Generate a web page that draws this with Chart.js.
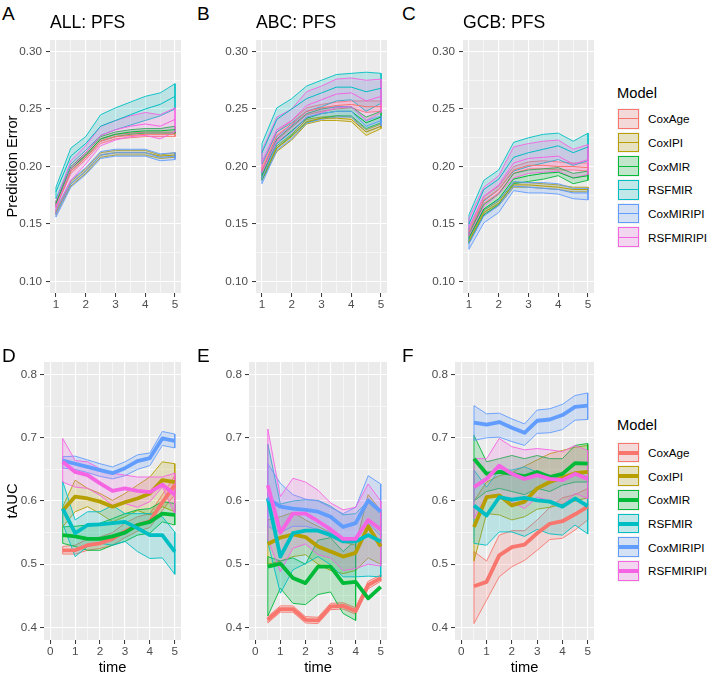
<!DOCTYPE html>
<html>
<head>
<meta charset="utf-8">
<script src="https://cdn.jsdelivr.net/npm/chart.js@4/dist/chart.umd.min.js"></script>
<style>
html, body { margin: 0; padding: 0; background: #fff; overflow: hidden; }
body { width: 709px; height: 675px; position: relative; font-family: "Liberation Sans", Arial, sans-serif; }
canvas { position: absolute; }
.txt { position: absolute; line-height: 1; white-space: nowrap; color: #000; }
.tag { font-size: 19px; }
.ttl { font-size: 17.6px; }
.legend { position: absolute; left: 617px; }
.legend .head { font-size: 14.7px; line-height: 1; position: absolute; left: 0; white-space: nowrap; }
.row { display: flex; align-items: center; height: 23.7px; }
.key { width: 23px; height: 21.7px; background: #f2f2f2; position: relative; }
.key .fill { position: absolute; left: 1px; top: 1px; right: 1px; bottom: 1px; border: 1px solid; }
.key .ln { position: absolute; left: 1px; right: 1px; }
.row span { font-size: 11.7px; margin-left: 8px; white-space: nowrap; }
</style>
</head>
<body>
<script>
// models and colours (ggplot default hues)
const models = ['CoxAge', 'CoxIPI', 'CoxMIR', 'RSFMIR', 'CoxMIRIPI', 'RSFMIRIPI'];
const colors = ['#F8766D', '#B79F00', '#00BA38', '#00BFC4', '#619CFF', '#F564E3'];

// x values
const timesPE = [1, 1.5, 2, 2.5, 3, 3.5, 4, 4.5, 5];
const timesAUC = [0.5, 1, 1.5, 2, 2.5, 3, 3.5, 4, 4.5, 5];

// ticks
const peYMajor = [0.10, 0.15, 0.20, 0.25, 0.30];
const peYMinor = [0.125, 0.175, 0.225, 0.275];
const peXMajor = [1, 2, 3, 4, 5];
const peXMinor = [1.5, 2.5, 3.5, 4.5];
const aucYMajor = [0.4, 0.5, 0.6, 0.7, 0.8];
const aucYMinor = [0.45, 0.55, 0.65, 0.75];
const aucXMajor = [0, 1, 2, 3, 4, 5];
const aucXMinor = [0.5, 1.5, 2.5, 3.5, 4.5];

// A: ALL PFS prediction error (rows follow models order)
const allMean = [
  [0.166, 0.196, 0.208, 0.222, 0.226, 0.227, 0.228, 0.228, 0.228],
  [0.160, 0.185, 0.196, 0.210, 0.212, 0.212, 0.212, 0.209, 0.210],
  [0.168, 0.198, 0.210, 0.224, 0.228, 0.230, 0.231, 0.231, 0.232],
  [0.178, 0.209, 0.220, 0.235, 0.240, 0.245, 0.250, 0.254, 0.261],
  [0.159, 0.185, 0.196, 0.210, 0.212, 0.212, 0.212, 0.208, 0.209],
  [0.165, 0.198, 0.212, 0.227, 0.232, 0.235, 0.237, 0.235, 0.241]
];
const allLo = [
  [0.164, 0.194, 0.206, 0.220, 0.224, 0.225, 0.226, 0.226, 0.226],
  [0.158, 0.183, 0.194, 0.208, 0.210, 0.210, 0.210, 0.207, 0.208],
  [0.166, 0.196, 0.208, 0.222, 0.226, 0.228, 0.229, 0.229, 0.229],
  [0.172, 0.202, 0.214, 0.227, 0.232, 0.236, 0.240, 0.244, 0.250],
  [0.156, 0.182, 0.193, 0.207, 0.209, 0.209, 0.209, 0.205, 0.206],
  [0.159, 0.188, 0.202, 0.218, 0.223, 0.226, 0.227, 0.224, 0.230]
];
const allHi = [
  [0.168, 0.198, 0.210, 0.224, 0.228, 0.229, 0.230, 0.230, 0.230],
  [0.162, 0.187, 0.198, 0.212, 0.214, 0.214, 0.214, 0.210, 0.212],
  [0.170, 0.200, 0.212, 0.226, 0.230, 0.232, 0.233, 0.233, 0.235],
  [0.182, 0.216, 0.226, 0.245, 0.251, 0.256, 0.261, 0.264, 0.272],
  [0.163, 0.188, 0.199, 0.213, 0.215, 0.215, 0.215, 0.211, 0.212],
  [0.170, 0.205, 0.218, 0.235, 0.240, 0.244, 0.247, 0.245, 0.251]
];

// B: ABC PFS prediction error
const abcMean = [
  [0.197, 0.227, 0.237, 0.248, 0.251, 0.253, 0.254, 0.252, 0.252],
  [0.190, 0.216, 0.226, 0.239, 0.242, 0.242, 0.241, 0.230, 0.235],
  [0.192, 0.220, 0.231, 0.242, 0.246, 0.248, 0.248, 0.238, 0.243],
  [0.212, 0.241, 0.250, 0.259, 0.264, 0.269, 0.269, 0.265, 0.268],
  [0.190, 0.220, 0.230, 0.243, 0.246, 0.248, 0.248, 0.235, 0.240],
  [0.204, 0.232, 0.240, 0.253, 0.258, 0.263, 0.264, 0.257, 0.261]
];
const abcLo = [
  [0.193, 0.223, 0.234, 0.245, 0.248, 0.250, 0.251, 0.247, 0.248],
  [0.188, 0.213, 0.223, 0.237, 0.240, 0.240, 0.239, 0.227, 0.233],
  [0.188, 0.216, 0.227, 0.238, 0.242, 0.244, 0.244, 0.233, 0.238],
  [0.202, 0.230, 0.238, 0.248, 0.252, 0.257, 0.258, 0.248, 0.255],
  [0.185, 0.214, 0.224, 0.238, 0.241, 0.243, 0.243, 0.230, 0.235],
  [0.195, 0.222, 0.230, 0.242, 0.247, 0.251, 0.252, 0.240, 0.247]
];
const abcHi = [
  [0.200, 0.230, 0.240, 0.251, 0.254, 0.256, 0.257, 0.257, 0.257],
  [0.192, 0.218, 0.228, 0.241, 0.243, 0.244, 0.243, 0.232, 0.237],
  [0.196, 0.224, 0.235, 0.246, 0.250, 0.252, 0.252, 0.243, 0.248],
  [0.220, 0.251, 0.259, 0.270, 0.275, 0.280, 0.281, 0.282, 0.281],
  [0.196, 0.226, 0.236, 0.248, 0.251, 0.252, 0.252, 0.240, 0.244],
  [0.214, 0.243, 0.250, 0.265, 0.270, 0.276, 0.277, 0.275, 0.276]
];

// C: GCB PFS prediction error
const gcbMean = [
  [0.143, 0.171, 0.180, 0.197, 0.201, 0.201, 0.200, 0.200, 0.199],
  [0.135, 0.160, 0.168, 0.184, 0.184, 0.183, 0.182, 0.180, 0.180],
  [0.138, 0.163, 0.172, 0.189, 0.192, 0.194, 0.195, 0.190, 0.192],
  [0.150, 0.180, 0.189, 0.208, 0.212, 0.215, 0.218, 0.212, 0.217],
  [0.133, 0.157, 0.166, 0.183, 0.182, 0.181, 0.180, 0.177, 0.177],
  [0.147, 0.174, 0.184, 0.203, 0.207, 0.208, 0.209, 0.202, 0.206]
];
const gcbLo = [
  [0.140, 0.168, 0.177, 0.194, 0.198, 0.198, 0.197, 0.197, 0.196],
  [0.133, 0.158, 0.166, 0.182, 0.182, 0.181, 0.180, 0.178, 0.178],
  [0.134, 0.158, 0.167, 0.185, 0.187, 0.189, 0.192, 0.185, 0.188],
  [0.142, 0.170, 0.180, 0.196, 0.200, 0.203, 0.206, 0.201, 0.205],
  [0.128, 0.151, 0.160, 0.179, 0.177, 0.177, 0.176, 0.172, 0.171],
  [0.139, 0.165, 0.176, 0.190, 0.194, 0.195, 0.196, 0.190, 0.193]
];
const gcbHi = [
  [0.146, 0.174, 0.183, 0.200, 0.204, 0.205, 0.204, 0.203, 0.203],
  [0.137, 0.162, 0.170, 0.186, 0.186, 0.185, 0.184, 0.182, 0.182],
  [0.142, 0.167, 0.176, 0.194, 0.197, 0.198, 0.199, 0.194, 0.196],
  [0.158, 0.188, 0.197, 0.221, 0.225, 0.228, 0.229, 0.222, 0.229],
  [0.138, 0.163, 0.171, 0.187, 0.186, 0.186, 0.185, 0.181, 0.181],
  [0.155, 0.182, 0.192, 0.217, 0.220, 0.222, 0.223, 0.215, 0.219]
];

// D: ALL tAUC
const allAucMean = [
  [0.522, 0.522, 0.530, 0.533, 0.540, 0.552, 0.562, 0.568, 0.598, 0.625],
  [0.585, 0.607, 0.604, 0.599, 0.591, 0.598, 0.604, 0.612, 0.633, 0.630],
  [0.546, 0.544, 0.540, 0.540, 0.544, 0.550, 0.562, 0.567, 0.580, 0.578],
  [0.588, 0.549, 0.562, 0.563, 0.565, 0.567, 0.557, 0.546, 0.546, 0.520],
  [0.664, 0.659, 0.654, 0.649, 0.644, 0.652, 0.663, 0.668, 0.699, 0.695],
  [0.662, 0.646, 0.641, 0.628, 0.616, 0.620, 0.616, 0.614, 0.626, 0.610]
];
const allAucLo = [
  [0.516, 0.516, 0.522, 0.525, 0.530, 0.542, 0.552, 0.558, 0.585, 0.610],
  [0.559, 0.583, 0.591, 0.580, 0.567, 0.575, 0.585, 0.578, 0.591, 0.583],
  [0.533, 0.528, 0.522, 0.522, 0.530, 0.536, 0.546, 0.549, 0.567, 0.562],
  [0.564, 0.512, 0.528, 0.533, 0.530, 0.536, 0.520, 0.509, 0.510, 0.484],
  [0.652, 0.650, 0.645, 0.639, 0.635, 0.640, 0.650, 0.656, 0.688, 0.684],
  [0.630, 0.622, 0.620, 0.609, 0.593, 0.596, 0.590, 0.599, 0.622, 0.580]
];
const allAucHi = [
  [0.528, 0.530, 0.540, 0.543, 0.550, 0.565, 0.575, 0.580, 0.610, 0.640],
  [0.591, 0.633, 0.620, 0.612, 0.601, 0.612, 0.625, 0.638, 0.662, 0.659],
  [0.559, 0.560, 0.562, 0.565, 0.572, 0.580, 0.586, 0.588, 0.599, 0.596],
  [0.631, 0.570, 0.583, 0.583, 0.593, 0.580, 0.580, 0.580, 0.575, 0.551],
  [0.670, 0.671, 0.665, 0.659, 0.654, 0.662, 0.673, 0.676, 0.710, 0.706],
  [0.699, 0.664, 0.662, 0.651, 0.644, 0.641, 0.638, 0.638, 0.638, 0.644]
];

// E: ABC tAUC (CoxMIR band stops at t = 4)
const abcAucMean = [
  [0.412, 0.429, 0.429, 0.412, 0.411, 0.433, 0.434, 0.426, 0.467, 0.478],
  [0.532, 0.542, 0.547, 0.543, 0.528, 0.520, 0.512, 0.518, 0.560, 0.528],
  [0.496, 0.501, 0.478, 0.470, 0.496, 0.496, 0.470, 0.472, 0.446, 0.464],
  [0.604, 0.512, 0.549, 0.553, 0.553, 0.546, 0.536, 0.536, 0.546, 0.536],
  [0.604, 0.591, 0.588, 0.586, 0.583, 0.575, 0.559, 0.565, 0.601, 0.583],
  [0.625, 0.550, 0.580, 0.580, 0.568, 0.555, 0.540, 0.540, 0.570, 0.555]
];
const abcAucLo = [
  [0.407, 0.424, 0.424, 0.407, 0.406, 0.428, 0.429, 0.421, 0.461, 0.473],
  [0.500, 0.505, 0.512, 0.515, 0.500, 0.490, 0.485, 0.490, 0.510, 0.500],
  [0.418, 0.462, 0.438, 0.436, 0.452, 0.456, 0.422, 0.411, null, null],
  [0.535, 0.454, 0.491, 0.501, 0.512, 0.499, 0.480, 0.480, 0.481, 0.480],
  [0.560, 0.550, 0.560, 0.560, 0.555, 0.550, 0.535, 0.540, 0.565, 0.545],
  [0.540, 0.488, 0.525, 0.532, 0.515, 0.510, 0.490, 0.493, 0.500, 0.497]
];
const abcAucHi = [
  [0.417, 0.434, 0.434, 0.417, 0.416, 0.438, 0.439, 0.431, 0.473, 0.483],
  [0.570, 0.575, 0.582, 0.570, 0.560, 0.550, 0.535, 0.530, 0.610, 0.585],
  [0.512, 0.505, 0.510, 0.500, 0.538, 0.542, 0.520, 0.538, null, null],
  [0.690, 0.595, 0.600, 0.602, 0.601, 0.592, 0.578, 0.580, 0.600, 0.585],
  [0.659, 0.628, 0.610, 0.603, 0.600, 0.590, 0.580, 0.590, 0.640, 0.627],
  [0.714, 0.607, 0.636, 0.630, 0.617, 0.597, 0.586, 0.590, 0.627, 0.600]
];

// F: GCB tAUC
const gcbAucMean = [
  [0.465, 0.472, 0.514, 0.527, 0.531, 0.549, 0.564, 0.568, 0.579, 0.591],
  [0.559, 0.606, 0.609, 0.593, 0.599, 0.620, 0.630, 0.637, 0.644, 0.646],
  [0.667, 0.643, 0.646, 0.643, 0.639, 0.646, 0.638, 0.643, 0.660, 0.659],
  [0.593, 0.577, 0.606, 0.602, 0.605, 0.601, 0.599, 0.591, 0.604, 0.592],
  [0.724, 0.721, 0.725, 0.716, 0.708, 0.727, 0.729, 0.736, 0.749, 0.751],
  [0.622, 0.635, 0.656, 0.643, 0.635, 0.641, 0.635, 0.633, 0.643, 0.635]
];
const gcbAucLo = [
  [0.406, 0.443, 0.480, 0.496, 0.506, 0.522, 0.539, 0.541, 0.554, 0.570],
  [0.505, 0.580, 0.578, 0.570, 0.575, 0.587, 0.590, 0.595, 0.600, 0.605],
  [0.600, 0.615, 0.620, 0.615, 0.610, 0.620, 0.615, 0.625, 0.630, 0.630],
  [0.533, 0.530, 0.551, 0.551, 0.544, 0.555, 0.548, 0.546, 0.562, 0.548],
  [0.696, 0.700, 0.701, 0.694, 0.688, 0.707, 0.708, 0.713, 0.728, 0.729],
  [0.572, 0.609, 0.606, 0.599, 0.588, 0.606, 0.600, 0.592, 0.612, 0.604]
];
const gcbAucHi = [
  [0.520, 0.505, 0.546, 0.553, 0.553, 0.570, 0.590, 0.605, 0.610, 0.620],
  [0.600, 0.630, 0.640, 0.645, 0.655, 0.665, 0.675, 0.680, 0.685, 0.688],
  [0.704, 0.662, 0.667, 0.672, 0.667, 0.672, 0.667, 0.667, 0.688, 0.691],
  [0.649, 0.622, 0.649, 0.649, 0.654, 0.646, 0.641, 0.633, 0.646, 0.638],
  [0.751, 0.738, 0.739, 0.730, 0.722, 0.744, 0.746, 0.753, 0.767, 0.771],
  [0.667, 0.667, 0.699, 0.686, 0.681, 0.683, 0.681, 0.678, 0.688, 0.680]
];

const FONT = '"Liberation Sans", Arial, sans-serif';

function rgba(hex, a) {
  const n = parseInt(hex.slice(1), 16);
  return 'rgba(' + (n >> 16) + ',' + ((n >> 8) & 255) + ',' + (n & 255) + ',' + a + ')';
}

// grey panel like ggplot
const panelBg = {
  id: 'panelBg',
  beforeDraw(chart) {
    const { ctx, chartArea: a } = chart;
    ctx.save();
    ctx.fillStyle = '#EBEBEB';
    ctx.fillRect(a.left, a.top, a.right - a.left, a.bottom - a.top);
    ctx.restore();
  }
};

// closed outline of a ribbon: upper edge forward, lower edge back
function ribbonPoints(times, lo, hi) {
  const up = [], down = [];
  times.forEach((t, k) => {
    if (lo[k] == null || hi[k] == null) return;
    up.push({ x: t, y: hi[k] });
    down.unshift({ x: t, y: lo[k] });
  });
  return up.concat(down, up.slice(0, 1));
}

function axis(range, major, minor, fmt, size, pad, title, isX) {
  const all = major.concat(minor).sort((a, b) => a - b);
  const isMajor = c => c.tick && major.includes(c.tick.value);
  return {
    type: 'linear',
    min: range[0],
    max: range[1],
    afterBuildTicks: ax => { ax.ticks = all.map(v => ({ value: v })); },
    afterFit: ax => { if (isX) ax.height = size; else ax.width = size; },
    ticks: {
      autoSkip: false, maxRotation: 0, padding: pad, color: '#4D4D4D',
      font: { size: 11.7, family: FONT },
      callback: v => major.includes(v) ? fmt(v) : ''
    },
    grid: {
      color: '#FFFFFF',
      lineWidth: c => isMajor(c) ? 1.1 : 0.55,
      drawTicks: true,
      tickLength: 4,
      tickColor: c => isMajor(c) ? '#333333' : 'rgba(0,0,0,0)',
      tickWidth: c => isMajor(c) ? 1 : 0
    },
    border: { display: false },
    title: title ? {
      display: true, text: title, color: '#000',
      font: { size: 14.7, family: FONT },
      padding: isX ? { top: 0, bottom: 0 } : { top: 4, bottom: 0 }
    } : { display: false }
  };
}

function panel(cfg) {
  const cv = document.createElement('canvas');
  cv.width = cfg.w; cv.height = cfg.h;
  cv.style.left = cfg.left + 'px'; cv.style.top = cfg.top + 'px';
  cv.style.width = cfg.w + 'px'; cv.style.height = cfg.h + 'px';
  document.body.appendChild(cv);

  const datasets = [];
  models.forEach((m, i) => {
    datasets.push({
      label: m + ' band',
      data: ribbonPoints(cfg.times, cfg.lo[i], cfg.hi[i]),
      borderColor: colors[i],
      borderWidth: 0.9,
      backgroundColor: rgba(colors[i], 0.2),
      fill: 'shape',
      pointRadius: 0,
      tension: 0,
      order: 20 - i
    });
  });
  models.forEach((m, i) => {
    datasets.push({
      label: m,
      data: cfg.times.map((t, k) => ({ x: t, y: cfg.mean[i][k] })),
      borderColor: colors[i],
      borderWidth: cfg.thick ? 3.8 : 1,
      borderJoinStyle: 'round',
      fill: false,
      pointRadius: 0,
      tension: 0,
      order: 5 - i
    });
  });

  new Chart(cv, {
    type: 'line',
    data: { datasets },
    options: {
      responsive: false,
      animation: false,
      events: [],
      layout: { padding: { top: 12, right: 4, left: 0, bottom: 0 } },
      plugins: { legend: { display: false }, tooltip: { enabled: false } },
      scales: {
        x: axis(cfg.xRange, cfg.xMajor, cfg.xMinor, v => String(v), cfg.xH, 1, cfg.xTitle, true),
        y: axis(cfg.yRange, cfg.yMajor, cfg.yMinor, cfg.yFmt, cfg.yW, cfg.yPad, cfg.yTitle, false)
      }
    },
    plugins: [panelBg]
  });
}

const peFmt = v => v.toFixed(2);
const aucFmt = v => v.toFixed(1);

const topRow = { times: timesPE, xRange: [0.8, 5.2], yRange: [0.09, 0.31],
  xMajor: peXMajor, xMinor: peXMinor, yMajor: peYMajor, yMinor: peYMinor,
  yFmt: peFmt, yW: 50, yPad: 4, xH: 20, top: 28, w: 185, h: 285, thick: false };
const botRow = { times: timesAUC, xRange: [-0.25, 5.25], yRange: [0.38, 0.82],
  xMajor: aucXMajor, xMinor: aucXMinor, yMajor: aucYMajor, yMinor: aucYMinor,
  yFmt: aucFmt, yW: 44, yPad: 3, xH: 37, top: 350, h: 327, thick: true, xTitle: 'time' };

panel(Object.assign({}, topRow, { left: 0, mean: allMean, lo: allLo, hi: allHi, yTitle: 'Prediction Error' }));
panel(Object.assign({}, topRow, { left: 206, mean: abcMean, lo: abcLo, hi: abcHi }));
panel(Object.assign({}, topRow, { left: 413, mean: gcbMean, lo: gcbLo, hi: gcbHi }));
panel(Object.assign({}, botRow, { left: 0, w: 185, mean: allAucMean, lo: allAucLo, hi: allAucHi, yTitle: 'tAUC' }));
panel(Object.assign({}, botRow, { left: 205, w: 186, mean: abcAucMean, lo: abcAucLo, hi: abcAucHi }));
panel(Object.assign({}, botRow, { left: 411, w: 187, mean: gcbAucMean, lo: gcbAucLo, hi: gcbAucHi }));

// panel tags and titles
function text(cls, str, left, top) {
  const d = document.createElement('div');
  d.className = 'txt ' + cls;
  d.textContent = str;
  d.style.left = left + 'px';
  d.style.top = top + 'px';
  document.body.appendChild(d);
}
text('tag', 'A', 2, 3.5); text('tag', 'B', 197, 3.5); text('tag', 'C', 402, 3.5);
text('tag', 'D', 2, 345.5); text('tag', 'E', 197, 345.5); text('tag', 'F', 402, 345.5);
text('ttl', 'ALL: PFS', 50, 14.4); text('ttl', 'ABC: PFS', 256, 14.4); text('ttl', 'GCB: PFS', 463, 14.4);

// legends
function legend(headTop, keysTop, lineW) {
  const box = document.createElement('div');
  box.className = 'legend';
  box.style.top = headTop + 'px';
  const head = document.createElement('div');
  head.className = 'head';
  head.textContent = 'Model';
  box.appendChild(head);
  const list = document.createElement('div');
  list.style.position = 'absolute';
  list.style.left = '0px';
  list.style.top = (keysTop - headTop) + 'px';
  models.forEach((m, i) => {
    const row = document.createElement('div');
    row.className = 'row';
    const key = document.createElement('div');
    key.className = 'key';
    const f = document.createElement('div');
    f.className = 'fill';
    f.style.borderColor = colors[i];
    f.style.background = rgba(colors[i], 0.2);
    const ln = document.createElement('div');
    ln.className = 'ln';
    ln.style.height = lineW + 'px';
    ln.style.top = (21.7 - lineW) / 2 + 'px';
    ln.style.background = colors[i];
    key.appendChild(f); key.appendChild(ln);
    const lab = document.createElement('span');
    lab.textContent = m;
    row.appendChild(key); row.appendChild(lab);
    list.appendChild(row);
  });
  box.appendChild(list);
  document.body.appendChild(box);
}
legend(86.4, 107, 1);
legend(418, 440.7, 4);
</script>
</body>
</html>
